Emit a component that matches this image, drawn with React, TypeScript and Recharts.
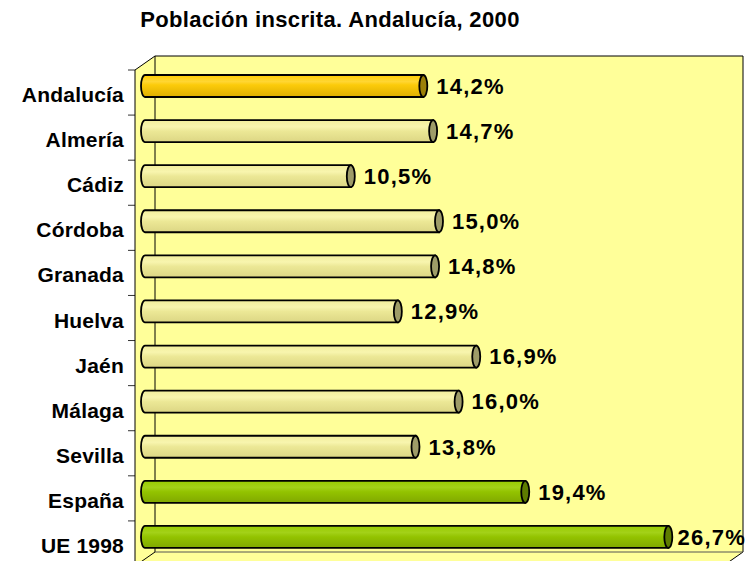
import React from 'react';
import { BarChart, Bar, XAxis, YAxis, ReferenceArea, LabelList } from 'recharts';

const title = 'Población inscrita. Andalucía, 2000';
const categories = ['Andalucía', 'Almería', 'Cádiz', 'Córdoba', 'Granada', 'Huelva', 'Jaén', 'Málaga', 'Sevilla', 'España', 'UE 1998'];
const values = [14.2, 14.7, 10.5, 15.0, 14.8, 12.9, 16.9, 16.0, 13.8, 19.4, 26.7];
const goldCats = ['Andalucía'];
const greenCats = ['España', 'UE 1998'];

const data = categories.map((c, i) => ({ name: c, value: values[i] }));

const FONT = "Arial, 'Liberation Sans', sans-serif";
const DX = 20;
const DY = 14;
const SX = DX / 2;
const SY = DY / 2;

const palettes: Record<string, { stops: [number, string][]; cap: string }> = {
  gold: {
    stops: [[0, '#FFCC00'], [0.3, '#FFD633'], [0.45, '#FCCB0A'], [1, '#DDAE00']],
    cap: '#9C8008',
  },
  pale: {
    stops: [[0, '#F2EE9C'], [0.3, '#F8F5AE'], [0.5, '#ECE896'], [1, '#DCD684']],
    cap: '#9E9C68',
  },
  green: {
    stops: [[0, '#99CC00'], [0.3, '#A3D118'], [0.5, '#93C300'], [1, '#80A800']],
    cap: '#5E7C00',
  },
};

const kindOf = (name: string) =>
  goldCats.includes(name) ? 'gold' : greenCats.includes(name) ? 'green' : 'pale';

const Cylinder = (props: any) => {
  const { x, y, width, height, index, payload } = props;
  const kind = kindOf(payload?.name ?? categories[index]);
  const pal = palettes[kind];
  const X = x + SX;
  const Y = y - SY;
  const rx = 4;
  const ry = height / 2;
  const x2 = X + width;
  const id = `cyl-${index}`;
  const d = `M ${X} ${Y} L ${x2} ${Y} L ${x2} ${Y + height} L ${X} ${Y + height} A ${rx} ${ry} 0 0 1 ${X} ${Y} Z`;
  return (
    <g>
      <defs>
        <linearGradient id={id} x1="0" y1="0" x2="0" y2="1">
          {pal.stops.map(([o, c], k) => (
            <stop key={k} offset={o} stopColor={c} />
          ))}
        </linearGradient>
      </defs>
      <path d={d} fill={`url(#${id})`} stroke="#000" strokeWidth={1.8} />
      <ellipse cx={x2} cy={Y + ry} rx={rx} ry={ry} fill={pal.cap} stroke="#000" strokeWidth={1.8} />
    </g>
  );
};

const ValueLabel = (props: any) => {
  const { x, y, width, height, value } = props;
  const vx = x + width + SX;
  const cy = y - SY + height / 2;
  const txt = `${Number(value).toFixed(1).replace('.', ',')}%`;
  const natural = vx + 13;
  const overflow = natural + 70 > 746;
  return (
    <text
      x={overflow ? 746 : natural}
      y={cy + 7.8}
      textAnchor={overflow ? 'end' : 'start'}
      fontFamily={FONT}
      fontWeight="bold"
      fontSize={22}
      letterSpacing={1.2}
      fill="#000"
    >
      {txt}
    </text>
  );
};

const Box = (props: any) => {
  const { x, y, width, height } = props;
  const L = x;
  const T = y;
  const R = x + width;
  const B = y + height;
  const n = categories.length;
  const hex = `M ${L} ${T} L ${L + DX} ${T - DY} L ${R + DX} ${T - DY} L ${R + DX} ${B - DY} L ${R} ${B} L ${L} ${B} Z`;
  const ticks = Array.from({ length: n + 1 }, (_, k) => T + (k * height) / n);
  return (
    <g>
      <path d={hex} fill="#FFFF99" stroke="none" />
      <path
        d={`M ${L} ${T} L ${L + DX} ${T - DY} L ${R + DX} ${T - DY} L ${R + DX} ${B - DY} L ${R} ${B}`}
        fill="none"
        stroke="#000"
        strokeWidth={1}
      />
      <path d={`M ${L + DX} ${T - DY} L ${L + DX} ${B - DY} L ${L} ${B}`} fill="none" stroke="#000" strokeWidth={1} />
      <path d={`M ${L + DX} ${B - DY} L ${R + DX} ${B - DY}`} fill="none" stroke="#555" strokeWidth={1} />
      {ticks.map((ty, k) => (
        <line key={k} x1={L - 7} x2={L} y1={ty} y2={ty} stroke="#333" strokeWidth={1} />
      ))}
    </g>
  );
};

const CatTick = (props: any) => {
  const { x, y, payload } = props;
  return (
    <text
      x={x}
      y={y + 9.5}
      textAnchor="end"
      fontFamily={FONT}
      fontWeight="bold"
      fontSize={21}
      letterSpacing={0.2}
      fill="#000"
    >
      {payload.value}
    </text>
  );
};

export default function App() {
  return (
    <div style={{ position: 'absolute', left: 0, top: 0, width: 749, height: 561, overflow: 'hidden', background: '#fff' }}>
      <div
        style={{
          position: 'absolute',
          left: 0,
          top: 7,
          width: 660,
          textAlign: 'center',
          fontFamily: FONT,
          fontWeight: 'bold',
          fontSize: 22,
          letterSpacing: 0.35,
          color: '#000',
          whiteSpace: 'nowrap',
        }}
      >
        {title}
      </div>
      <BarChart
        width={749}
        height={566}
        data={data}
        layout="vertical"
        margin={{ top: 70, right: 26, bottom: 0, left: 0 }}
        barSize={22}
      >
        <XAxis type="number" domain={[0, 30]} hide />
        <YAxis
          type="category"
          dataKey="name"
          width={135}
          tickLine={false}
          tickSize={0}
          tickMargin={11}
          axisLine={{ stroke: '#000', strokeWidth: 1 }}
          tick={<CatTick />}
          interval={0}
        />
        <ReferenceArea x1={0} x2={30} shape={<Box />} ifOverflow="visible" />
        <Bar dataKey="value" shape={<Cylinder />} isAnimationActive={false}>
          <LabelList dataKey="value" content={<ValueLabel />} />
        </Bar>
      </BarChart>
    </div>
  );
}
